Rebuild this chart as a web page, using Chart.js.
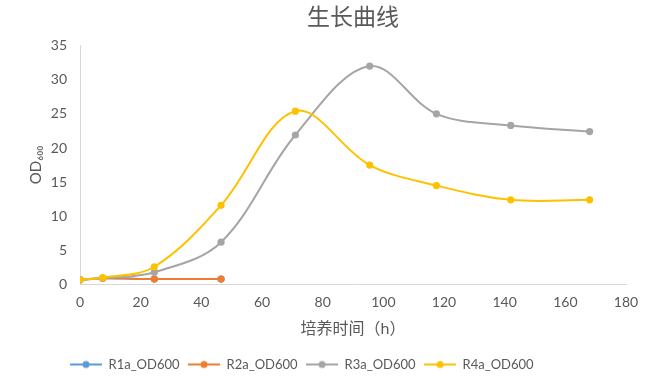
<!DOCTYPE html>
<html>
<head>
<meta charset="utf-8">
<script src="https://cdn.jsdelivr.net/npm/chart.js@4/dist/chart.umd.min.js"></script>
<style>
html,body{margin:0;padding:0;background:#fff;}
#wrap{width:650px;height:384px;position:relative;}
</style>
</head>
<body>
<div id="wrap"><canvas id="c" width="650" height="384"></canvas></div>
<script>
const titleText = "生长曲线";
const xTitle = "培养时间（h）";
const yTitle = "OD₆₀₀";
const seriesNames = ["R1a_OD600", "R2a_OD600", "R3a_OD600", "R4a_OD600"];
const seriesColors = ["#5B9BD5", "#ED7D31", "#A5A5A5", "#FFC000"];

const timeShort = [0, 7.5, 24.5, 46.5];
const timeLong = [0, 7.5, 24.5, 46.5, 71, 95.5, 117.5, 142, 168];

const r1a = [0.7, 0.9, 0.8, 0.8];
const r2a = [0.7, 0.9, 0.8, 0.8];
const r3a = [0.7, 0.9, 1.8, 6.2, 21.9, 32.0, 25.0, 23.3, 22.4];
const r4a = [0.7, 1.0, 2.6, 11.6, 25.4, 17.5, 14.5, 12.4, 12.4];

const xMin = 0, xMax = 180, xStep = 20;
const yMin = 0, yMax = 35, yStep = 5;

function pts(xs, ys){ return ys.map((v,i)=>({x:xs[i], y:v})); }

function legendIcon(color){
  const c = document.createElement('canvas');
  c.width = 32; c.height = 10;
  const g = c.getContext('2d');
  g.strokeStyle = color; g.lineWidth = 2;
  g.beginPath(); g.moveTo(0,5); g.lineTo(32,5); g.stroke();
  g.fillStyle = color;
  g.beginPath(); g.arc(16,5,3.5,0,Math.PI*2); g.fill();
  return c;
}

const seriesData = [pts(timeShort, r1a), pts(timeShort, r2a), pts(timeLong, r3a), pts(timeLong, r4a)];
const orders = [3, 2, 1, 0];

const font = "Lato, 'Noto Sans CJK SC', sans-serif";
const textColor = "#595959";

const datasets = seriesData.map((d,i)=>({
  label: seriesNames[i],
  data: d,
  borderColor: seriesColors[i],
  backgroundColor: seriesColors[i],
  pointBackgroundColor: seriesColors[i],
  pointBorderColor: seriesColors[i],
  pointRadius: 3.6,
  pointBorderWidth: 0,
  borderWidth: 2,
  tension: 0.35,
  fill: false,
  order: orders[i],
  pointStyle: 'circle',
  legendIcon: legendIcon(seriesColors[i])
}));

const placeBlocks = {
  id: 'placeBlocks',
  afterLayout(chart){
    const ca = chart.chartArea;
    if (chart.titleBlock){ chart.titleBlock.left = ca.left; chart.titleBlock.right = ca.right; }
    if (chart.legend){ chart.legend.left = 61.5; }
  }
};

new Chart(document.getElementById('c'), {
  type: 'line',
  data: { datasets },
  plugins: [placeBlocks],
  options: {
    responsive: false,
    animation: false,
    layout: { padding: { left: 10, right: 24, top: 2, bottom: 3 } },
    plugins: {
      title: {
        display: true, text: titleText, color: textColor,
        font: { family: font, size: 23, weight: 'normal' },
        padding: { top: 2, bottom: 14 }
      },
      legend: {
        position: 'bottom',
        align: 'start',
        labels: {
          usePointStyle: true,
          pointStyleWidth: 32,
          color: textColor,
          font: { family: font, size: 13 },
          padding: 8.5,
          sort: (a,b)=>a.datasetIndex-b.datasetIndex,
          generateLabels: (chart)=> chart.data.datasets.map((ds,i)=>({
            text: ds.label, fontColor: textColor, pointStyle: ds.legendIcon,
            datasetIndex: i, hidden: false, lineWidth: 0, strokeStyle: ds.borderColor, fillStyle: ds.borderColor
          }))
        }
      },
      tooltip: { enabled: false }
    },
    scales: {
      x: {
        type: 'linear', min: xMin, max: xMax,
        afterFit: (s)=>{ s.height = 65; },
        ticks: { stepSize: xStep, color: textColor, font: { family: font, size: 14 }, padding: 10 },
        grid: { display: false, drawTicks: false },
        border: { display: true, color: '#D9D9D9', width: 1 },
        title: { display: true, text: xTitle, color: textColor, font: { family: font, size: 16 }, padding: { top: 8, bottom: 11 } }
      },
      y: {
        type: 'linear', min: yMin, max: yMax,
        afterFit: (s)=>{ s.width = 70; },
        ticks: { stepSize: yStep, color: textColor, font: { family: font, size: 14 }, padding: 13 },
        grid: { display: false, drawTicks: false },
        border: { display: true, color: '#D9D9D9', width: 1 },
        title: { display: true, text: yTitle, color: textColor, font: { family: font, size: 15 }, padding: { top: 17, bottom: 4 } }
      }
    }
  }
});
</script>
</body>
</html>
